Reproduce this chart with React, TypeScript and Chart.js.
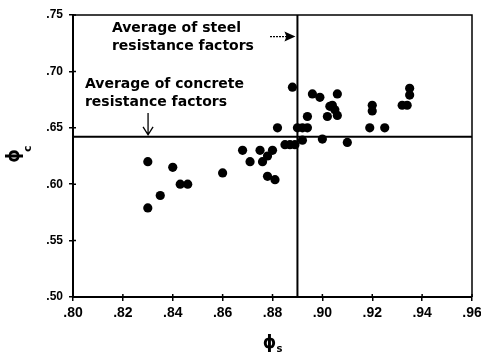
import React, { useEffect, useRef } from "react";
import { Chart, registerables } from "chart.js";

Chart.register(...registerables);

// Steel resistance factor (x) and concrete resistance factor (y) for each case
const PHI_S = [
  0.830, 0.830, 0.835, 0.840, 0.843, 0.846, 0.860, 0.868, 0.871, 0.875,
  0.876, 0.878, 0.880, 0.878, 0.881, 0.882, 0.885, 0.887, 0.889, 0.888,
  0.890, 0.892, 0.894, 0.892, 0.894, 0.896, 0.899, 0.906, 0.900, 0.902,
  0.903, 0.905, 0.906, 0.904, 0.910, 0.920, 0.920, 0.919, 0.925, 0.935,
  0.935, 0.934, 0.932,
];
const PHI_C = [
  0.620, 0.579, 0.590, 0.615, 0.600, 0.600, 0.610, 0.630, 0.620, 0.630,
  0.620, 0.625, 0.630, 0.607, 0.604, 0.650, 0.635, 0.635, 0.635, 0.686,
  0.650, 0.650, 0.650, 0.639, 0.660, 0.680, 0.677, 0.680, 0.640, 0.660,
  0.669, 0.666, 0.661, 0.670, 0.637, 0.670, 0.665, 0.650, 0.650, 0.685,
  0.679, 0.670, 0.670,
];

const X_TICKS = [0.8, 0.82, 0.84, 0.86, 0.88, 0.9, 0.92, 0.94, 0.96];
const Y_TICKS = [0.5, 0.55, 0.6, 0.65, 0.7, 0.75];

const STEEL_AVG = 0.89;
const CONCRETE_AVG = 0.642;

const STEEL_NOTE = ["Average of steel", "resistance factors"];
const CONCRETE_NOTE = ["Average of concrete", "resistance factors"];

// annotation anchors in data units
const STEEL_NOTE_AT = { x: 0.8156, y: 0.7349 };
const STEEL_ARROW = { fromX: 0.879, y: 0.7309 };
const CONCRETE_NOTE_AT = { x: 0.8048, y: 0.6853 };
const CONCRETE_ARROW = { x: 0.8301, fromY: 0.6631 };

const fmt = (v: number) => v.toFixed(2).replace(/^0/, "");

const overlay = {
  id: "overlay",
  afterDraw(chart: any) {
    const { ctx, chartArea, scales } = chart;
    const { left, right, top, bottom } = chartArea;
    const x = scales.x;
    const y = scales.y;
    ctx.save();
    ctx.strokeStyle = "#000";
    ctx.fillStyle = "#000";

    // top & right frame
    ctx.lineWidth = 1.5;
    ctx.beginPath();
    ctx.moveTo(left, top);
    ctx.lineTo(right, top);
    ctx.lineTo(right, bottom);
    ctx.stroke();

    // inner tick marks
    ctx.lineWidth = 1.5;
    ctx.beginPath();
    X_TICKS.forEach((v) => {
      const px = x.getPixelForValue(v);
      ctx.moveTo(px, bottom);
      ctx.lineTo(px, bottom - 3);
    });
    Y_TICKS.forEach((v) => {
      const py = y.getPixelForValue(v);
      ctx.moveTo(left, py);
      ctx.lineTo(left + 3, py);
    });
    ctx.stroke();

    // annotation texts
    ctx.font = 'bold 14px "DejaVu Sans"';
    ctx.textAlign = "left";
    ctx.textBaseline = "alphabetic";
    const sx = x.getPixelForValue(STEEL_NOTE_AT.x);
    const sy = y.getPixelForValue(STEEL_NOTE_AT.y);
    STEEL_NOTE.forEach((t, i) => ctx.fillText(t, sx, sy + i * 18));
    const cx = x.getPixelForValue(CONCRETE_NOTE_AT.x);
    const cy = y.getPixelForValue(CONCRETE_NOTE_AT.y);
    CONCRETE_NOTE.forEach((t, i) => ctx.fillText(t, cx, cy + i * 18));

    // steel arrow (dotted, filled head)
    const ax0 = x.getPixelForValue(STEEL_ARROW.fromX);
    const ax1 = x.getPixelForValue(STEEL_AVG) - 2;
    const ay = y.getPixelForValue(STEEL_ARROW.y);
    ctx.lineWidth = 1.2;
    ctx.setLineDash([2, 1]);
    ctx.beginPath();
    ctx.moveTo(ax0, ay);
    ctx.lineTo(ax1 - 8, ay);
    ctx.stroke();
    ctx.setLineDash([]);
    ctx.beginPath();
    ctx.moveTo(ax1, ay);
    ctx.lineTo(ax1 - 11, ay - 5);
    ctx.lineTo(ax1 - 9, ay);
    ctx.lineTo(ax1 - 11, ay + 5);
    ctx.closePath();
    ctx.fill();

    // concrete arrow (open head)
    const bx = x.getPixelForValue(CONCRETE_ARROW.x);
    const by0 = y.getPixelForValue(CONCRETE_ARROW.fromY);
    const by1 = y.getPixelForValue(CONCRETE_AVG) - 2;
    ctx.lineWidth = 1.3;
    ctx.beginPath();
    ctx.moveTo(bx, by0);
    ctx.lineTo(bx, by1);
    ctx.moveTo(bx - 5, by1 - 8);
    ctx.lineTo(bx, by1);
    ctx.lineTo(bx + 5, by1 - 8);
    ctx.stroke();

    // x axis title: phi_s
    const xt = (left + right) / 2;
    const yt = bottom + 51;
    ctx.font = 'bold 17px "DejaVu Sans"';
    ctx.textAlign = "center";
    ctx.fillText("\u03D5", xt - 3, yt);
    ctx.font = 'bold 10px "DejaVu Sans"';
    ctx.textAlign = "left";
    ctx.fillText("s", xt + 4, yt + 4);

    // y axis title: phi_c (rotated)
    ctx.translate(left - 58, (top + bottom) / 2);
    ctx.rotate(-Math.PI / 2);
    ctx.font = 'bold 17px "DejaVu Sans"';
    ctx.textAlign = "center";
    ctx.textBaseline = "middle";
    ctx.fillText("\u03D5", 0, 0);
    ctx.font = 'bold 11px "DejaVu Sans"';
    ctx.textAlign = "left";
    ctx.fillText("c", 4, 13);

    ctx.restore();
  },
};

export default function App() {
  const ref = useRef<HTMLCanvasElement | null>(null);

  useEffect(() => {
    if (!ref.current) return;
    const points = PHI_S.map((v, i) => ({ x: v, y: PHI_C[i] }));
    const yMin = Y_TICKS[0];
    const yMax = Y_TICKS[Y_TICKS.length - 1];
    const xMin = X_TICKS[0];
    const xMax = X_TICKS[X_TICKS.length - 1];

    const chart = new Chart(ref.current, {
      type: "scatter",
      data: {
        datasets: [
          {
            type: "line",
            data: [
              { x: STEEL_AVG, y: yMin },
              { x: STEEL_AVG, y: yMax },
            ],
            borderColor: "#000",
            borderWidth: 2,
            pointRadius: 0,
            fill: false,
          } as any,
          {
            type: "line",
            data: [
              { x: xMin, y: CONCRETE_AVG },
              { x: xMax, y: CONCRETE_AVG },
            ],
            borderColor: "#000",
            borderWidth: 2,
            pointRadius: 0,
            fill: false,
          } as any,
          {
            data: points,
            backgroundColor: "#000",
            borderColor: "#000",
            pointRadius: 4.6,
            borderWidth: 0,
          },
        ],
      },
      options: {
        responsive: false,
        animation: false,
        layout: { padding: { top: 15, right: 9, left: 0, bottom: 0 } },
        plugins: {
          legend: { display: false },
          tooltip: { enabled: false },
        },
        scales: {
          x: {
            type: "linear",
            position: "bottom",
            min: xMin,
            max: xMax,
            afterBuildTicks: (s: any) => {
              s.ticks = X_TICKS.map((v) => ({ value: v }));
            },
            afterFit: (s: any) => {
              s.height = 59;
              s.paddingLeft = 0;
              s.paddingRight = 0;
            },
            grid: {
              drawOnChartArea: false,
              drawTicks: true,
              tickLength: 4,
              color: "#000",
              lineWidth: 1.5,
            },
            border: { color: "#000", width: 2 },
            ticks: {
              color: "#000",
              font: { family: "Liberation Sans", weight: "bold", size: 14 },
              padding: 4,
              maxRotation: 0,
              autoSkip: false,
              callback: (v: any) => fmt(Number(v)),
            },
          },
          y: {
            type: "linear",
            min: yMin,
            max: yMax,
            afterBuildTicks: (s: any) => {
              s.ticks = Y_TICKS.map((v) => ({ value: v }));
            },
            afterFit: (s: any) => {
              s.width = 73;
              s.paddingTop = 0;
              s.paddingBottom = 0;
            },
            grid: {
              drawOnChartArea: false,
              drawTicks: true,
              tickLength: 4,
              color: "#000",
              lineWidth: 1.5,
            },
            border: { color: "#000", width: 2 },
            ticks: {
              color: "#000",
              font: { family: "Liberation Sans", weight: "bold", size: 12 },
              padding: 6,
              autoSkip: false,
              callback: (v: any) => fmt(Number(v)),
            },
          },
        },
      },
      plugins: [overlay],
    });
    return () => chart.destroy();
  }, []);

  return (
    <div style={{ position: "absolute", left: 0, top: 0, width: 481, height: 356, background: "#fff" }}>
      <canvas ref={ref} width={481} height={356} />
    </div>
  );
}
